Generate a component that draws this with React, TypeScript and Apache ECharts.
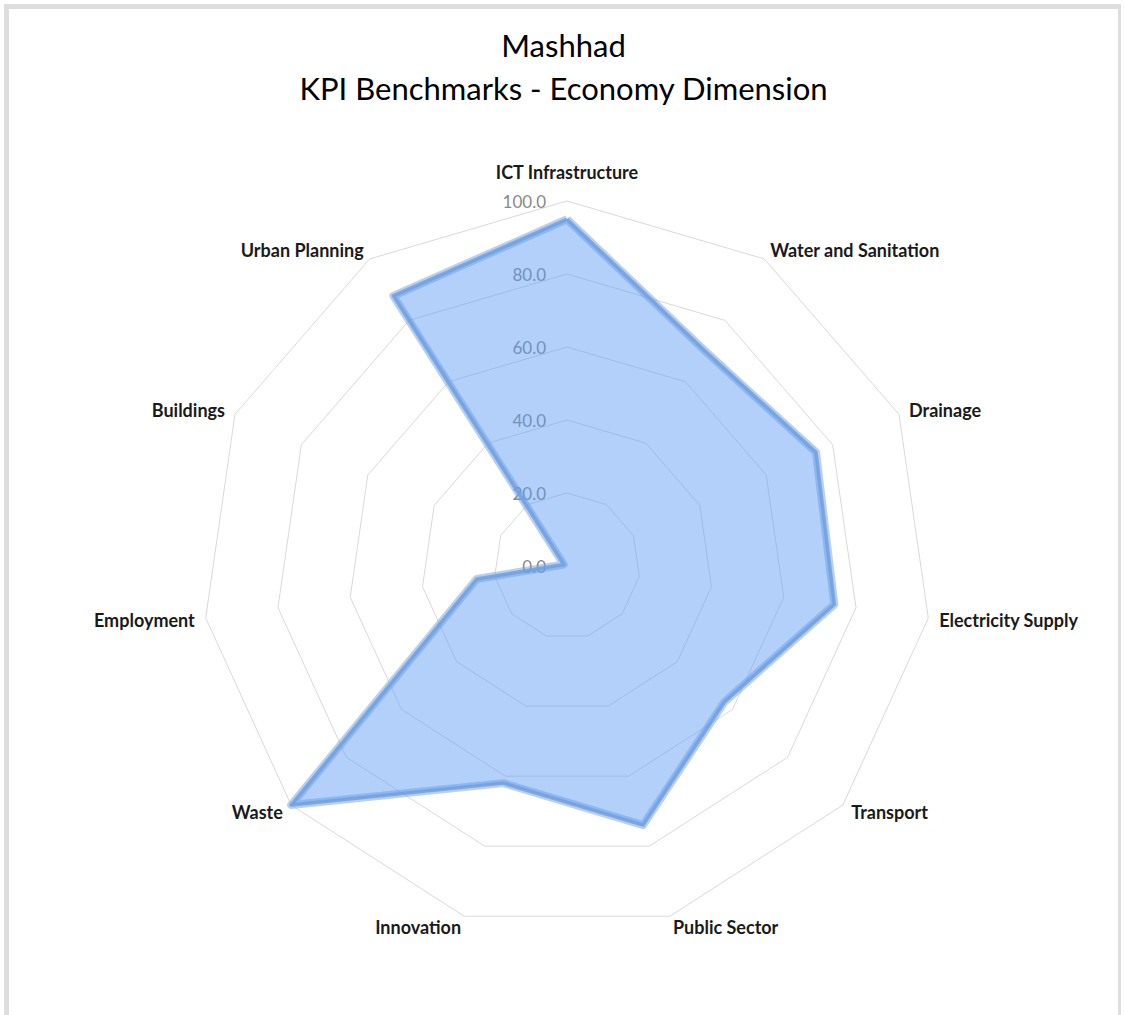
import React, { useEffect, useRef } from "react";
import * as echarts from "echarts";

const titleLines = ["Mashhad", "KPI Benchmarks - Economy Dimension"];
const categories = [
  "ICT Infrastructure",
  "Water and Sanitation",
  "Drainage",
  "Electricity Supply",
  "Transport",
  "Public Sector",
  "Innovation",
  "Waste",
  "Employment",
  "Buildings",
  "Urban Planning",
];
const kpiValues = [95, 70, 75, 74, 57, 74, 62, 100, 25, 1, 88];
const axisMin = 0;
const axisMax = 100;
const axisSplits = 5;

export default function App() {
  const ref = useRef<HTMLDivElement>(null);
  useEffect(() => {
    if (!ref.current) return;
    const chart = echarts.init(ref.current, undefined, { renderer: "svg" });
    // ECharts lays indicators counter-clockwise; reorder so the picture runs clockwise
    const order = [0, ...categories.map((_, i) => i).slice(1).reverse()];
    const indicators = order.map((i, k) => {
      const ind: any = { name: categories[i], min: axisMin, max: axisMax };
      if (k === 0) {
        ind.nameGap = 20;
        ind.axisLabel = {
          show: true,
          color: "#898989",
          fontSize: 17,
          fontFamily: "Lato",
          margin: 21,
          formatter: (v: number) => Number(v).toFixed(1),
        };
      }
      return ind;
    });
    const values = order.map((i) => kpiValues[i]);
    chart.setOption({
      animation: false,
      backgroundColor: "#ffffff",
      title: {
        text: titleLines.join("\n"),
        left: "center",
        top: 14,
        padding: 0,
        textStyle: {
          fontFamily: "Lato",
          fontWeight: "normal",
          fontSize: 31,
          lineHeight: 43,
          color: "#000000",
        },
      },
      radar: {
        center: [558, 557],
        radius: 365,
        startAngle: 90,
        shape: "polygon",
        splitNumber: axisSplits,
        nameGap: 11,
        indicator: indicators,
        axisName: {
          color: "#1a1a1a",
          fontFamily: "Lato",
          fontWeight: "bold",
          fontSize: 18,
        },
        axisLine: { show: false },
        axisTick: { show: false },
        axisLabel: { show: false },
        splitArea: { show: false },
        splitLine: { lineStyle: { color: "#d9d9d9", width: 1 } },
      },
      series: [
        {
          type: "radar",
          symbol: "none",
          z: 2,
          lineStyle: { color: "rgba(120,160,215,0.5)", width: 8 },
          areaStyle: { color: "#5b9bf5", opacity: 0.47 },
          data: [{ value: values, name: "Mashhad" }],
        },
        {
          type: "radar",
          symbol: "none",
          z: 3,
          lineStyle: { color: "rgba(110,160,225,0.85)", width: 3.5 },
          data: [{ value: values, name: "Mashhad line" }],
        },
      ],
    });
    return () => chart.dispose();
  }, []);
  return (
    <div
      style={{
        position: "absolute",
        left: 4,
        top: 4,
        width: 1117,
        height: 1100,
        boxSizing: "border-box",
        borderLeft: "5px solid #dedede",
        borderTop: "5px solid #dedede",
        borderRight: "3px solid #dedede",
        background: "#fff",
      }}
    >
      <div ref={ref} style={{ width: 1109, height: 1006 }} />
    </div>
  );
}
